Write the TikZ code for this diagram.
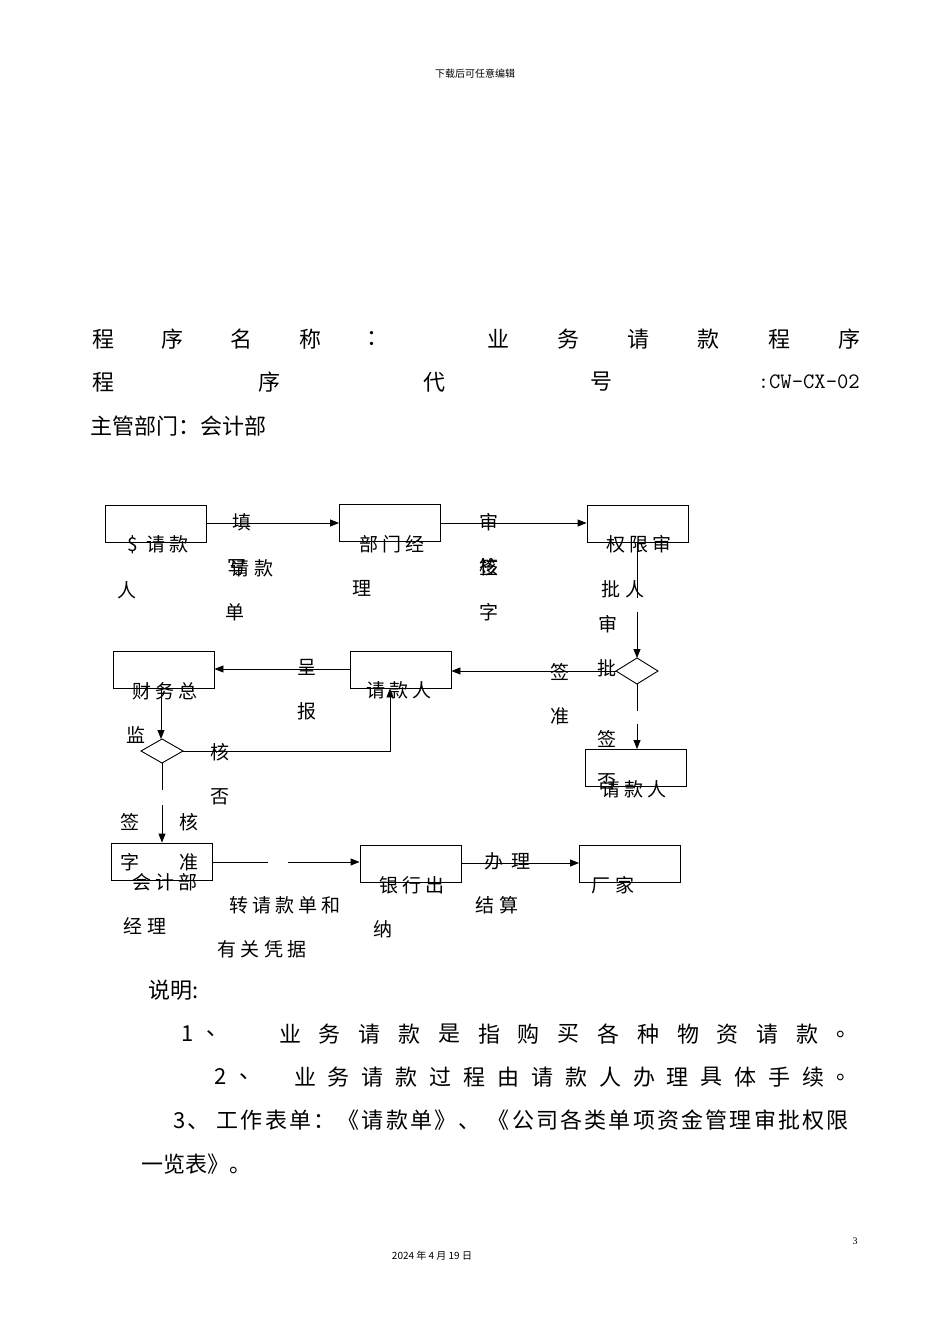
\documentclass[tikz,border=0pt]{standalone}
\usepackage{fontspec}
\setmainfont{Liberation Serif}
\newfontfamily\cjk{Noto Sans CJK SC}
\newfontfamily\cjksp[LetterSpace=22]{Noto Sans CJK SC}
\newfontfamily\cjkwide[LetterSpace=10]{Noto Sans CJK SC}
\usetikzlibrary{arrows.meta}
\begin{document}
\begin{tikzpicture}[x=1pt,y=-1pt,
 bx/.style={draw,line width=0.9pt,minimum width=101pt,minimum height=37pt,inner sep=0pt},
 dm/.style={draw,line width=0.9pt},
 ar/.style={-{Triangle[length=9pt,width=7pt]},line width=0.9pt},
 ln/.style={line width=0.9pt},
 lb/.style={font=\cjksp\fontsize{19}{19}\selectfont,inner sep=0pt,fill=none},
 tt/.style={font=\cjk\fontsize{22}{22}\selectfont,inner sep=0pt}]
\useasboundingbox (0,0) rectangle (950,1344);
\node[font=\cjk\fontsize{10}{10}\selectfont] (hdr) at (475,74) {下载后可任意编辑};
% title
\foreach \c/\x [count=\i] in {程/103,序/172,名/241,称/310,：/377,业/498,务/568,请/638,款/708,程/779,序/849}
  \node[tt] (t1\i) at (\x,339) {\c};
\foreach \c/\x [count=\i] in {程/103,序/269,代/434,号/601}
  \node[tt] (t2\i) at (\x,382) {\c};
\node[tt,anchor=east] (t2c) at (860,382) {\ttfamily :CW-CX-02};
\node[tt,anchor=west] (t3) at (90,426) {主管部门：会计部};
% boxes
\node[bx] (b1) at (155.5,524) {};
\node[bx] (b2) at (390,522.5) {};
\node[bx] (b3) at (637.5,523.5) {};
\node[bx] (b4) at (400.5,669.5) {};
\node[bx] (b5) at (163.5,669.5) {};
\node[bx] (b6) at (161.5,861.5) {};
\node[bx] (b7) at (410.5,863.5) {};
\node[bx] (b8) at (630,863.5) {};
\node[bx] (b9) at (636,768) {};
\draw[dm] (616,671) -- (637,658) -- (658,671) -- (637,684) -- cycle;
\coordinate (d1t) at (637,658); \coordinate (d1l) at (616,671); \coordinate (d1b) at (637,684);
\draw[dm] (141,751) -- (162,739) -- (183,751) -- (162,763) -- cycle;
\coordinate (d2t) at (162,739); \coordinate (d2r) at (183,751); \coordinate (d2b) at (162,763);
% connectors
\draw[ar] (b1.east |- 0,523) -- (b2.west |- 0,523);
\draw[ar] (b2.east |- 0,523) -- (b3.west |- 0,523);
\draw[ln] (637,542) -- (637,598);
\draw[ar] (637,612) -- (d1t);
\draw[ar] (d1l) -- (b4.east |- d1l);
\draw[ar] (b4.west |- 0,669) -- (b5.east |- 0,669);
\draw[ln] (d1b) -- (637,711);
\draw[ar] (637,724) -- (b9.north -| 637,0);
\draw[ar] (161,688) -- (d2t -| 161,0);
\draw[ar] (d2r) -- (390,751) -- (b4.south -| 390,0);
\draw[ln] (d2b) -- (162,790);
\draw[ar] (162,805) -- (b6.north -| 162,0);
\draw[ln] (b6.east |- 0,862) -- (268,862);
\draw[ar] (288,862) -- (b7.west |- 0,862);
\draw[ar] (b7.east |- 0,863) -- (b8.west |- 0,863);
% labels
\node[lb] (l1) at (158,545) {\$ 请款};
\node[lb] (l2) at (127,590) {人};
\node[lb] (l3) at (242,522) {填};
\node[lb] (l4) at (252,568) {请款};
\node[lb] (l4b) at (237,568) {写};
\node[lb] (l5) at (235,612) {单};
\node[lb] (l6) at (392,544) {部门经};
\node[lb] (l7) at (362,588) {理};
\node[lb] (l8) at (489,522) {审};
\node[lb] (l9) at (489,567) {核};
\node[lb] (l9b) at (489,567) {签};
\node[lb] (l10) at (489,612) {字};
\node[lb] (l11) at (639,544) {权限审};
\node[lb] (l12) at (623,589) {批人};
\node[lb] (l13) at (608,624) {审};
\node[lb] (l14) at (607,668) {批};
\node[lb] (l15) at (560,672) {签};
\node[lb] (l16) at (560,716) {准};
\node[lb] (l17) at (399,690) {请款人};
\node[lb] (l18) at (307,667) {呈};
\node[lb] (l19) at (307,711) {报};
\node[lb] (l20) at (165,691) {财务总};
\node[lb] (l21) at (136,735) {监};
\node[lb] (l22) at (220,752) {核};
\node[lb] (l23) at (220,797) {否};
\node[lb] (l24) at (607,739) {签};
\node[lb] (l25) at (607,782) {否};
\node[lb] (l26) at (634,789) {请款人};
\node[lb] (l27) at (130,822) {签};
\node[lb] (l28) at (189,822) {核};
\node[lb] (l29) at (130,862) {字};
\node[lb] (l30) at (189,862) {准};
\node[lb] (l31) at (165,882) {会计部};
\node[lb] (l32) at (145,926) {经理};
\node[lb] (l33) at (285,905) {转请款单和};
\node[lb] (l34) at (262,949) {有关凭据};
\node[lb] (l35) at (412,885) {银行出};
\node[lb] (l36) at (383,929) {纳};
\node[lb] (l37) at (507,861) {办\hspace{8pt}理};
\node[lb] (l38) at (497,905) {结算};
\node[lb] (l39) at (613,885) {厂家};
% notes
\node[tt,anchor=west] (n0) at (148,990) {说明:};
\node[tt] (n1a) at (188,1034) {1};
\node[tt] (n1b) at (217,1034) {、};
\foreach \c [count=\i] in {业,务,请,款,是,指,购,买,各,种,物,资,请,款,。}
  \node[tt] (n1c\i) at ({290+(\i-1)*39.8},1034) {\c};
\node[tt] (n2a) at (221,1077) {2};
\node[tt] (n2b) at (250,1077) {、};
\foreach \c [count=\i] in {业,务,请,款,过,程,由,请,款,人,办,理,具,体,手,续,。}
  \node[tt] (n2c\i) at ({305+(\i-1)*33.9},1077) {\c};
\node[tt,anchor=west,font=\cjkwide\fontsize{22}{22}\selectfont] (n3) at (173,1120) {3、 工作表单：《请款单》、 《公司各类单项资金管理审批权限};
\node[tt,anchor=west] (n4) at (141,1164) {一览表》。};
\node[font=\fontsize{10}{10}\selectfont] (pg) at (855,1241) {3};
\node[font=\cjk\fontsize{10}{10}\selectfont] (dt) at (432,1256) {2024 年 4 月 19 日};
\end{tikzpicture}
\end{document}
